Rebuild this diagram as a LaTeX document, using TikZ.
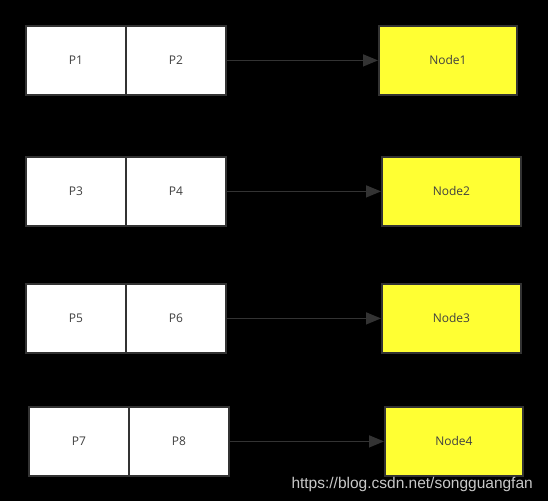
\documentclass[tikz,border=0pt]{standalone}
\usepackage{fontspec}
\setmainfont{Open Sans}
\newfontfamily\wmfont{Liberation Sans}
\usetikzlibrary{arrows.meta}
\definecolor{edge}{HTML}{333333}
\definecolor{nodey}{HTML}{FFFF33}
\definecolor{wm}{HTML}{C8C8C8}
\begin{document}
\begin{tikzpicture}[x=1pt,y=-1pt,
  pbox/.style={draw=edge,line width=1.8pt,fill=white,minimum width=100pt,minimum height=69pt,inner sep=0pt,font=\fontsize{12}{14}\selectfont,text=black!75,anchor=north west},
  ybox/.style={draw=edge,line width=1.8pt,fill=nodey,minimum width=138pt,minimum height=69pt,inner sep=0pt,font=\fontsize{12}{14}\selectfont,text=black!75,anchor=north west},
  conn/.style={draw=edge,line width=1.5pt,-{Triangle[length=15pt,width=12pt]}}]
\fill[black] (0,0) rectangle (548,501);
\useasboundingbox (0,0) rectangle (548,501);
% row 1
\node[pbox] (p1) at (25,25) {P1};
\node[pbox] (p2) at (125,25) {P2};
\node[ybox] (n1) at (378,25) {Node1};
% row 2
\node[pbox] (p3) at (25,156) {P3};
\node[pbox] (p4) at (125,156) {P4};
\node[ybox,minimum width=139pt] (n2) at (381,156) {Node2};
% row 3
\node[pbox] (p5) at (25,283) {P5};
\node[pbox] (p6) at (125,283) {P6};
\node[ybox,minimum width=139pt] (n3) at (381,283) {Node3};
% row 4
\node[pbox] (p7) at (28,406) {P7};
\node[pbox] (p8) at (128,406) {P8};
\node[ybox] (n4) at (384,406) {Node4};
% arrows
\draw[conn] (p2.east) -- (n1.west);
\draw[conn] (p4.east) -- (n2.west);
\draw[conn] (p6.east) -- (n3.west);
\draw[conn] (p8.east) -- (n4.west);
% watermark
\node[anchor=base east,text=wm,font=\wmfont\fontsize{15.5}{17}\selectfont,inner sep=0pt] (wmark) at (533,488) {https://blog.csdn.net/songguangfan};
\end{tikzpicture}
\end{document}
